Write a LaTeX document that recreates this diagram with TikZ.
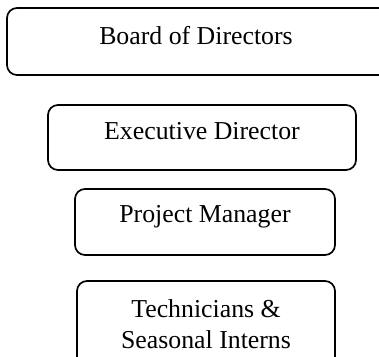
\documentclass[tikz,border=0pt]{standalone}
\usepackage{fontspec}
\setmainfont{Liberation Serif}
\begin{document}
\begin{tikzpicture}[x=1pt,y=-1pt,
  box/.style={draw=black, line width=1.7pt, rounded corners=10pt, inner sep=0pt, fill=none},
  lbl/.style={inner sep=0pt, font=\fontsize{25.8}{31}\selectfont, align=center}]
\useasboundingbox (0,0) rectangle (379,356);
\clip (0,0) rectangle (379,356);
\node[box, minimum width=390pt, minimum height=67pt] (board) at (202,41.5) {};
\node[box, minimum width=308pt, minimum height=65pt] (exec) at (202,137.5) {};
\node[box, minimum width=260pt, minimum height=66pt] (pm) at (205,222) {};
\node[box, minimum width=258pt, minimum height=90pt] (tech) at (206,326) {};
\node[lbl, anchor=base] (tboard) at (196,44) {Board of Directors};
\node[lbl, anchor=base] (texec) at (202,139.5) {Executive Director};
\node[lbl, anchor=base] (tpm) at (205,222.5) {Project Manager};
\node[lbl, anchor=north] (ttech) at (206,299.5) {Technicians \&\\Seasonal Interns};
\end{tikzpicture}
\end{document}
